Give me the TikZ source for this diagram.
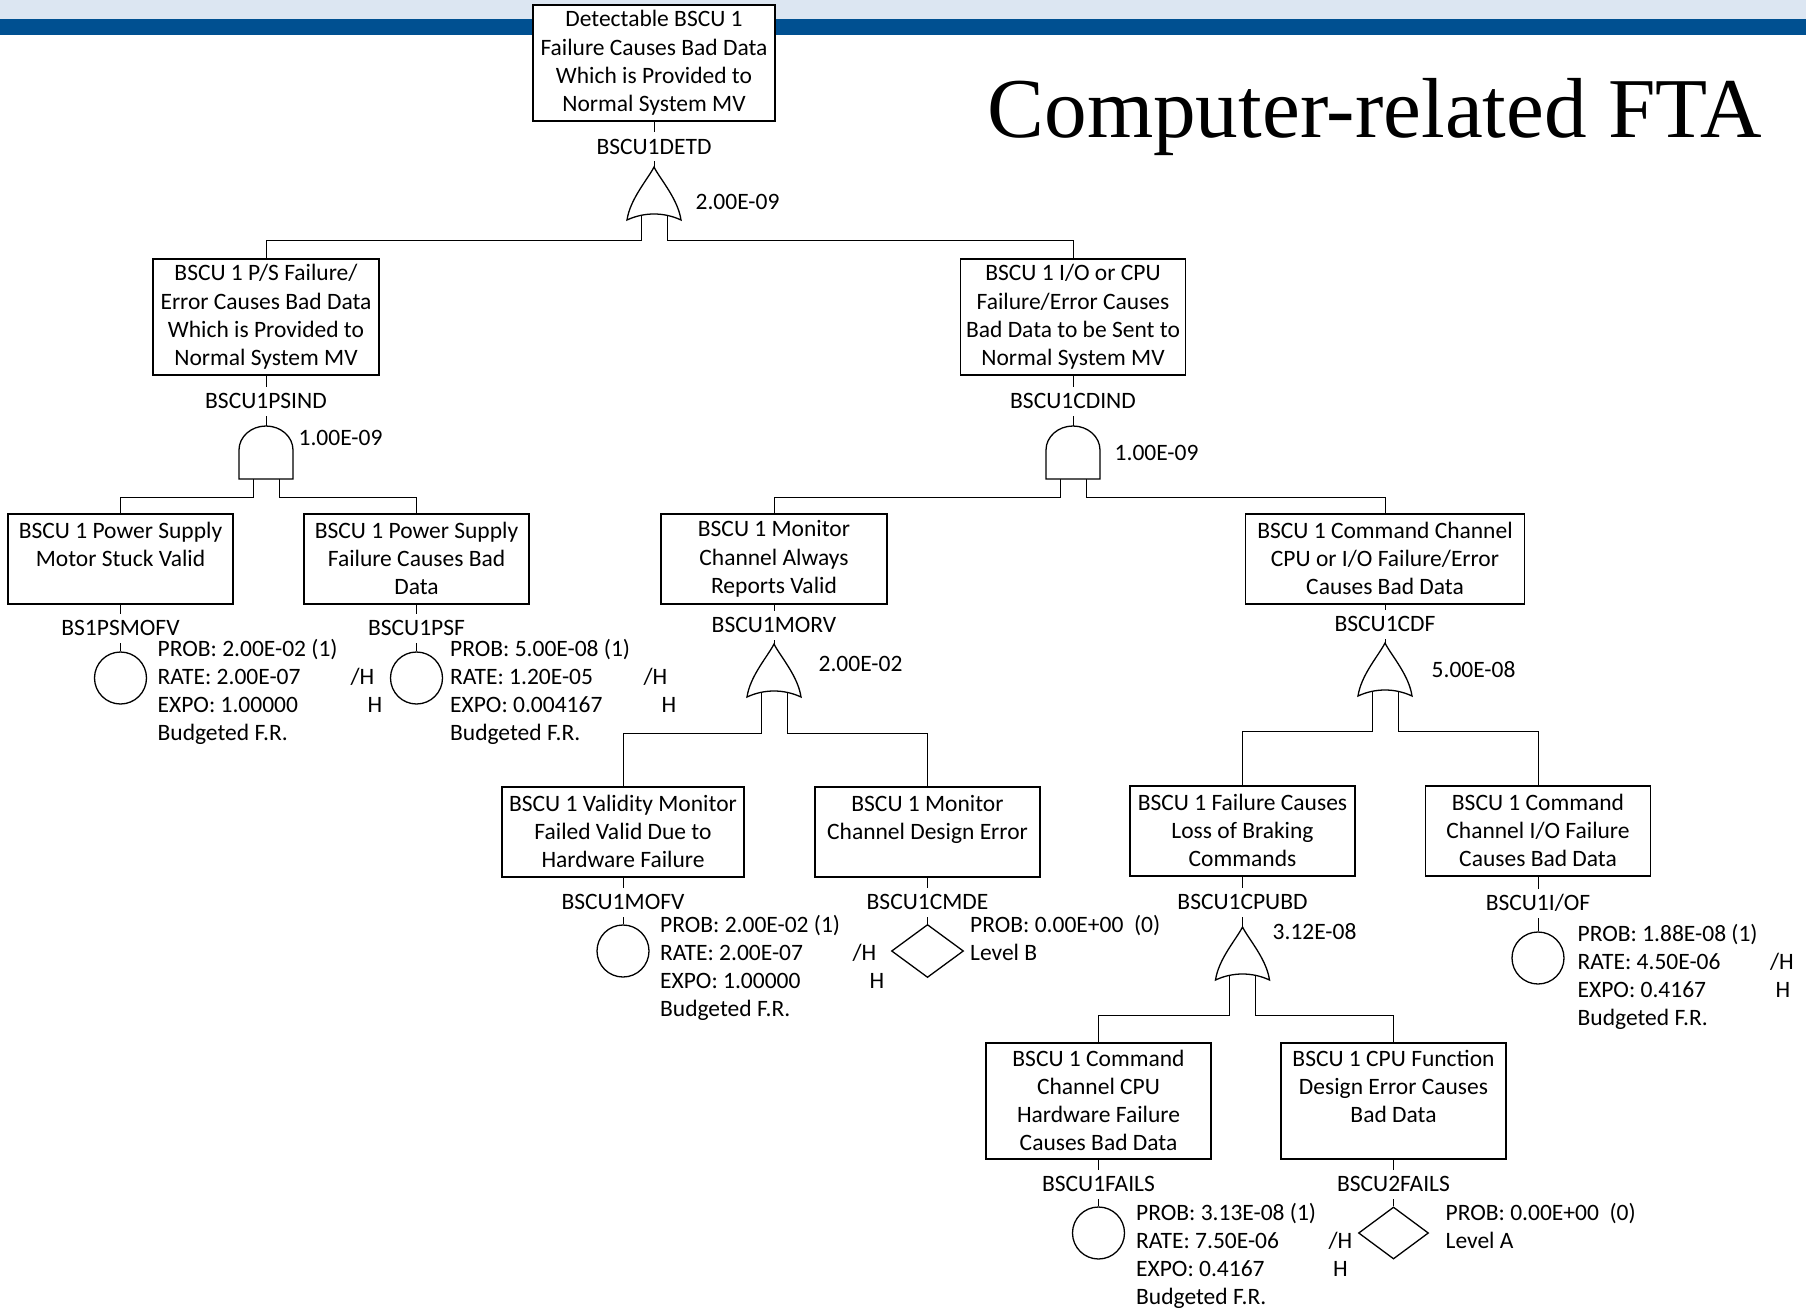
\documentclass[tikz,border=0pt]{standalone}
\usepackage{fontspec}
\setmainfont{Carlito}
\newfontfamily\titlefont{Liberation Serif}
\usetikzlibrary{shapes.geometric}
\pgfdeclarelayer{bg}
\pgfsetlayers{bg,main}
\definecolor{bandlight}{RGB}{220,230,242}
\definecolor{banddark}{RGB}{0,80,145}
\newcommand\ftafont{\fontsize{23.5pt}{28pt}\selectfont}
\newcommand\boxfont{\fontsize{23.5pt}{28.3pt}\selectfont}
\newcommand\bstrut{\rule[-1.3pt]{0pt}{28.3pt}}
\newcommand\infolines[1]{\begin{tabular}[t]{@{}l@{}}#1\end{tabular}}

\begin{document}
\begin{tikzpicture}[x=1pt,y=-1pt,line width=1.3pt,
  evt/.style={draw, fill=white, align=center, inner sep=0pt, font=\boxfont,
    execute at begin node=\bstrut, execute at end node=\bstrut},
  tag/.style={fill=white, inner xsep=3pt, inner ysep=0pt, minimum height=29pt,
    text height=15pt, text depth=0pt, font=\ftafont},
  val/.style={anchor=west, inner sep=0pt, text height=15pt, text depth=0pt, font=\ftafont},
  info/.style={anchor=base west, inner sep=0pt, font=\ftafont},
  basic/.style={draw, fill=white, circle, inner sep=0pt, minimum size=52pt},
  undev/.style={draw, fill=white, diamond, inner sep=0pt},
  orgate/.pic={
    \draw[fill=white] (0,0) .. controls (-6,12) and (-24,32) .. (-27,53)
      .. controls (-10,45) and (10,45) .. (27,53)
      .. controls (24,32) and (6,12) .. (0,0) -- cycle;
    \coordinate (-t) at (0,0);
    \coordinate (-l) at (-13,46);
    \coordinate (-r) at (13,46);
  },
  andgate/.pic={
    \draw[fill=white] (-27,53) -- (-27,24) .. controls (-27,10.75) and (-14.9,0) .. (0,0)
      .. controls (14.9,0) and (27,10.75) .. (27,24) -- (27,53) -- cycle;
    \coordinate (-t) at (0,0);
    \coordinate (-l) at (-13,50);
    \coordinate (-r) at (13,50);
  }]
\useasboundingbox (0,0) rectangle (1806,1308);

% title
\node[anchor=base west, inner sep=0pt, font=\titlefont\fontsize{85.2pt}{90pt}\selectfont]
  (title) at (987,138) {Computer-related FTA};

% event boxes
\node[evt, minimum width=242pt, minimum height=116pt] (top) at (654,63)
  {Detectable BSCU 1\\Failure Causes Bad Data\\Which is Provided to\\Normal System MV};
\node[evt, minimum width=226pt, minimum height=116pt] (psind) at (266,317)
  {BSCU 1 P/S Failure/\\Error Causes Bad Data\\Which is Provided to\\Normal System MV};
\node[evt, minimum width=225pt, minimum height=116pt] (cdind) at (1073,317)
  {BSCU 1 I/O or CPU\\Failure/Error Causes\\Bad Data to be Sent to\\Normal System MV};
\node[evt, minimum width=225pt, minimum height=90pt] (psmofv) at (120.5,559)
  {BSCU 1 Power Supply\\Motor Stuck Valid\\\mbox{}};
\node[evt, minimum width=225pt, minimum height=90pt] (psf) at (416.5,559)
  {BSCU 1 Power Supply\\Failure Causes Bad\\Data};
\node[evt, minimum width=226pt, minimum height=90pt] (morv) at (774,559)
  {BSCU 1 Monitor\\Channel Always\\Reports Valid};
\node[evt, minimum width=279pt, minimum height=90pt] (cdf) at (1385,559)
  {BSCU 1 Command Channel\\CPU or I/O Failure/Error\\Causes Bad Data};
\node[evt, minimum width=242pt, minimum height=90pt] (mofv) at (623,832)
  {BSCU 1 Validity Monitor\\Failed Valid Due to\\Hardware Failure};
\node[evt, minimum width=225pt, minimum height=90pt] (cmde) at (927.5,832)
  {BSCU 1 Monitor\\Channel Design Error\\\mbox{}};
\node[evt, minimum width=225pt, minimum height=90pt] (cpubd) at (1242.5,831)
  {BSCU 1 Failure Causes\\Loss of Braking\\Commands};
\node[evt, minimum width=225pt, minimum height=90pt] (iof) at (1538,831)
  {BSCU 1 Command\\Channel I/O Failure\\Causes Bad Data};
\node[evt, minimum width=225pt, minimum height=116pt] (fails1) at (1098.5,1101)
  {BSCU 1 Command\\Channel CPU\\Hardware Failure\\Causes Bad Data};
\node[evt, minimum width=225pt, minimum height=116pt] (fails2) at (1393.5,1101)
  {BSCU 1 CPU Function\\Design Error Causes\\Bad Data\\\mbox{}};

% gate identifiers
\node[tag] (l0) at (654,147) {BSCU1DETD};
\node[tag] (l1) at (266,401) {BSCU1PSIND};
\node[tag] (l2) at (1073,401) {BSCU1CDIND};
\node[tag] (l3) at (120.5,628) {BS1PSMOFV};
\node[tag] (l4) at (416.5,628) {BSCU1PSF};
\node[tag] (l5) at (774,625) {BSCU1MORV};
\node[tag] (l6) at (1385,624) {BSCU1CDF};
\node[tag] (l7) at (623,902) {BSCU1MOFV};
\node[tag] (l8) at (927.5,902) {BSCU1CMDE};
\node[tag] (l9) at (1242.5,902) {BSCU1CPUBD};
\node[tag] (l10) at (1538,903) {BSCU1I/OF};
\node[tag] (l11) at (1098.5,1184) {BSCU1FAILS};
\node[tag] (l12) at (1393.5,1184) {BSCU2FAILS};

% gates
\pic (g0) at (654,167) {orgate};
\pic (g1) at (266,426) {andgate};
\pic (g2) at (1073,426) {andgate};
\pic (g3) at (774,644) {orgate};
\pic (g4) at (1385,643) {orgate};
\pic (g5) at (1242.5,927) {orgate};

% gate probabilities
\node[val] (v0) at (695,202) {2.00E-09};
\node[val] (v1) at (298,438) {1.00E-09};
\node[val] (v2) at (1114,453) {1.00E-09};
\node[val] (v3) at (818,664) {2.00E-02};
\node[val] (v4) at (1431,670) {5.00E-08};
\node[val] (v5) at (1272,932) {3.12E-08};

% basic and undeveloped events
\node[basic] (e1) at (120.5,678) {};
\node[basic] (e2) at (416.5,678) {};
\node[basic] (e3) at (623,951) {};
\node[undev, minimum width=72pt, minimum height=53pt] (e4) at (927.5,951) {};
\node[basic] (e5) at (1538,958) {};
\node[basic] (e6) at (1098.5,1233) {};
\node[undev, minimum width=70pt, minimum height=52pt] (e7) at (1393.5,1233) {};

% event data
\node[info] (i1) at (157,656.5) {\infolines{PROB: 2.00E-02 (1)\\RATE: 2.00E-07\\EXPO: 1.00000\\Budgeted F.R.}};
\node[info] (i1a) at (350,684.5) {/H};
\node[info] (i1b) at (367,712.5) {H};
\node[info] (i2) at (449.5,656.5) {\infolines{PROB: 5.00E-08 (1)\\RATE: 1.20E-05\\EXPO: 0.004167\\Budgeted F.R.}};
\node[info] (i2a) at (643,684.5) {/H};
\node[info] (i2b) at (661,712.5) {H};
\node[info] (i3) at (659.5,932.5) {\infolines{PROB: 2.00E-02 (1)\\RATE: 2.00E-07\\EXPO: 1.00000\\Budgeted F.R.}};
\node[info] (i3a) at (852,960.5) {/H};
\node[info] (i3b) at (869,988.5) {H};
\node[info] (i4) at (969.5,932.5) {\infolines{PROB: 0.00E+00~~(0)\\Level B}};
\node[info] (i5) at (1577,941.5) {\infolines{PROB: 1.88E-08 (1)\\RATE: 4.50E-06\\EXPO: 0.4167\\Budgeted F.R.}};
\node[info] (i5a) at (1769.5,969.5) {/H};
\node[info] (i5b) at (1775,997.5) {H};
\node[info] (i6) at (1135.5,1220.5) {\infolines{PROB: 3.13E-08 (1)\\RATE: 7.50E-06\\EXPO: 0.4167\\Budgeted F.R.}};
\node[info] (i6a) at (1328,1248.5) {/H};
\node[info] (i6b) at (1332.5,1276.5) {H};
\node[info] (i7) at (1445,1220.5) {\infolines{PROB: 0.00E+00~~(0)\\Level A}};

% bus heights
\coordinate (b0) at (0,240);
\coordinate (b1) at (0,497);
\coordinate (b2) at (0,497);
\coordinate (b3) at (0,733);
\coordinate (b4) at (0,731);
\coordinate (b5) at (0,1015);

\begin{pgfonlayer}{bg}
  % header band
  \fill[bandlight] (0,0) rectangle (1806,19);
  \fill[banddark] (0,19) rectangle (1806,35);
  % outputs into gates
  \draw (top.south) -- (g0-t);
  \draw (psind.south) -- (g1-t);
  \draw (cdind.south) -- (g2-t);
  \draw (morv.south) -- (g3-t);
  \draw (cdf.south) -- (g4-t);
  \draw (cpubd.south) -- (g5-t);
  % gate inputs
  \draw (g0-l) -- (g0-l |- b0) -| (psind.north);
  \draw (g0-r) -- (g0-r |- b0) -| (cdind.north);
  \draw (g1-l) -- (g1-l |- b1) -| (psmofv.north);
  \draw (g1-r) -- (g1-r |- b1) -| (psf.north);
  \draw (g2-l) -- (g2-l |- b2) -| (morv.north);
  \draw (g2-r) -- (g2-r |- b2) -| (cdf.north);
  \draw (g3-l) -- (g3-l |- b3) -| (mofv.north);
  \draw (g3-r) -- (g3-r |- b3) -| (cmde.north);
  \draw (g4-l) -- (g4-l |- b4) -| (cpubd.north);
  \draw (g4-r) -- (g4-r |- b4) -| (iof.north);
  \draw (g5-l) -- (g5-l |- b5) -| (fails1.north);
  \draw (g5-r) -- (g5-r |- b5) -| (fails2.north);
  % boxes to their primary events
  \draw (psmofv.south) -- (e1.north);
  \draw (psf.south) -- (e2.north);
  \draw (mofv.south) -- (e3.north);
  \draw (cmde.south) -- (e4.north);
  \draw (iof.south) -- (e5.north);
  \draw (fails1.south) -- (e6.north);
  \draw (fails2.south) -- (e7.north);
\end{pgfonlayer}
\end{tikzpicture}
\end{document}
